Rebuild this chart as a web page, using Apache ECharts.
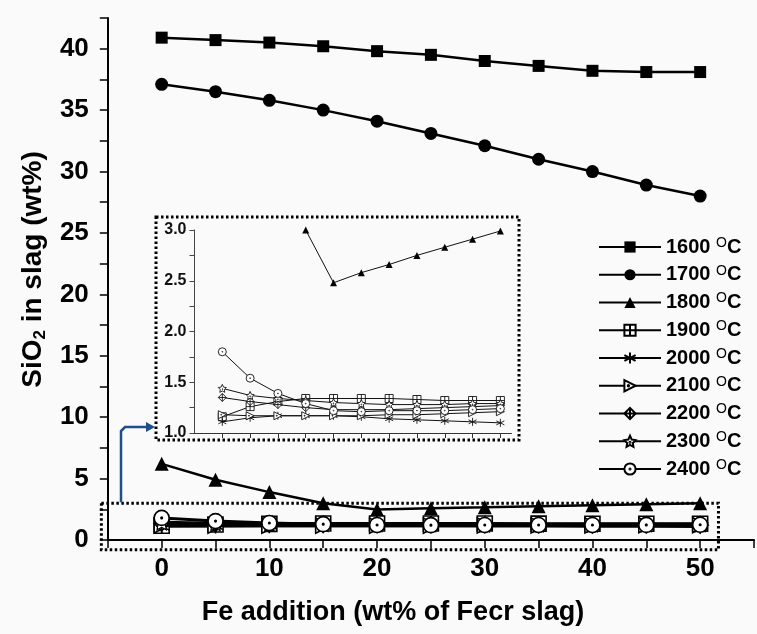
<!DOCTYPE html>
<html><head><meta charset="utf-8">
<script src="https://cdn.jsdelivr.net/npm/echarts@6/dist/echarts.min.js"></script>
<style>html,body{margin:0;padding:0;background:#fff}#c{width:757px;height:634px}</style>
</head><body><div id="c"></div>
<script>
// ---------- data ----------
const xValues = [0, 5, 10, 15, 20, 25, 30, 35, 40, 45, 50];
const s1600 = [40.9, 40.7, 40.5, 40.2, 39.8, 39.5, 39.0, 38.6, 38.2, 38.1, 38.1];
const s1700 = [37.1, 36.5, 35.8, 35.0, 34.1, 33.1, 32.1, 31.0, 30.0, 28.9, 28.0];
const s1800 = [6.2, 4.9, 3.9, 3.0, 2.48, 2.58, 2.66, 2.75, 2.83, 2.91, 2.99];
const s1900 = [1.16, 1.26, 1.31, 1.34, 1.34, 1.34, 1.34, 1.33, 1.32, 1.32, 1.32];
const s2000 = [1.11, 1.15, 1.17, 1.17, 1.17, 1.16, 1.14, 1.13, 1.12, 1.11, 1.10];
const s2100 = [1.18, 1.17, 1.17, 1.17, 1.17, 1.17, 1.18, 1.18, 1.19, 1.20, 1.21];
const s2200 = [1.35, 1.31, 1.28, 1.25, 1.23, 1.23, 1.23, 1.24, 1.25, 1.26, 1.27];
const s2300 = [1.44, 1.37, 1.34, 1.32, 1.30, 1.29, 1.28, 1.28, 1.28, 1.29, 1.29];
const s2400 = [1.80, 1.54, 1.39, 1.29, 1.22, 1.21, 1.22, 1.22, 1.22, 1.23, 1.24];
const seriesNames = ['1600', '1700', '1800', '1900', '2000', '2100', '2200', '2300', '2400'];
const seriesValues = [s1600, s1700, s1800, s1900, s2000, s2100, s2200, s2300, s2400];
const xTickLabels = [0, 10, 20, 30, 40, 50];
const yTickLabels = [0, 5, 10, 15, 20, 25, 30, 35, 40];
const insetYTickLabels = [1.0, 1.5, 2.0, 2.5, 3.0];
const xTitle = 'Fe addition (wt% of Fecr slag)';
const yTitleParts = ['SiO', '2', ' in slag (wt%)'];
const unitParts = ['O', 'C'];
// zoom window that the inset shows (data coordinates)
const zoomBoxX = [-5.6, 51.7];
const zoomBoxY = [-0.8, 3.0];

// ---------- styles ----------
const F = "'Liberation Sans', Arial, Helvetica, sans-serif";
const symbols = {
  '1600': 'rect',
  '1700': 'circle',
  '1800': 'triangle',
  '1900': 'path://M0,0H20V20H0Z M10,0V20 M0,10H20',
  '2000': 'path://M10,0V20 M1.3,5L18.7,15 M1.3,15L18.7,5',
  '2100': 'path://M0,0L20,10L0,20Z M6,10a1.2,1.2 0 1,0 2.4,0a1.2,1.2 0 1,0 -2.4,0',
  '2200': 'path://M10,0L20,10L10,20L0,10Z M10,0V20 M0,10H20',
  '2300': 'path://M10,0L12.94,6.45L19.51,7.41L14.76,12.22L15.88,18.59L10,15.5L4.12,18.59L5.24,12.22L0.49,7.41L7.06,6.45Z M9.1,11a0.9,0.9 0 1,0 1.8,0a0.9,0.9 0 1,0 -1.8,0',
  '2400': 'path://M0,10a10,10 0 1,0 20,0a10,10 0 1,0 -20,0Z M9,10a1,1 0 1,0 2,0a1,1 0 1,0 -2,0'
};
const filled = {'1600': true, '1700': true, '1800': true};
const mainSize = {'1600': 12, '1700': 13, '1800': 14};

function pairs(arr) { return xValues.map((x, i) => [x, arr[i]]); }

const series = [];
seriesNames.forEach((n, k) => {
  series.push({
    name: n, type: 'line', xAxisIndex: 0, yAxisIndex: 0,
    data: pairs(seriesValues[k]),
    symbol: symbols[n], symbolSize: mainSize[n] || 15,
    lineStyle: {color: '#000', width: filled[n] ? 2.5 : 3},
    itemStyle: {color: filled[n] ? '#000' : '#fff', borderColor: '#000', borderWidth: filled[n] ? 0 : (n === '2300' ? 1.2 : 1.6)},
    z: 3
  });
});
// inset series (only those inside the inset's range)
seriesNames.slice(2).forEach((n, k) => {
  series.push({
    name: n + ' inset', type: 'line', xAxisIndex: 1, yAxisIndex: 1,
    data: pairs(seriesValues[k + 2]),
    clip: true,
    symbol: symbols[n], symbolSize: n === '1800' ? 7 : 8,
    lineStyle: {color: '#111', width: 1},
    itemStyle: {color: filled[n] ? '#000' : '#fff', borderColor: '#111', borderWidth: filled[n] ? 0 : 0.9},
    z: 4
  });
});

const chart = echarts.init(document.getElementById('c'), null, {renderer: 'canvas'});
const axisBlack = {color: '#000', width: 2};
const option = {
  animation: false,
  backgroundColor: '#fafafa',
  grid: [
    {left: 107, top: 18, width: 647, height: 522},
    {left: 194.5, top: 230, width: 317, height: 203}
  ],
  xAxis: [
    {
      type: 'value', gridIndex: 0, min: -5, max: 55, interval: 5,
      name: xTitle, nameLocation: 'middle', nameGap: 59,
      nameTextStyle: {fontFamily: F, fontSize: 27, fontWeight: 'bold', color: '#000', padding: [0, 76, 0, 0]},
      axisLine: {onZero: false, lineStyle: axisBlack},
      axisTick: {length: 8, lineStyle: {color: '#000', width: 1.5}},
      axisLabel: {
        fontFamily: F, fontSize: 26, fontWeight: 'bold', color: '#000', margin: 16,
        formatter: v => xTickLabels.indexOf(v) >= 0 ? String(v) : ''
      },
      splitLine: {show: false}
    },
    {
      type: 'value', gridIndex: 1, min: -5, max: 52,
      axisLine: {onZero: false, lineStyle: {color: '#333', width: 1}},
      axisTick: {customValues: xValues, length: 5, lineStyle: {color: '#333', width: 1}},
      axisLabel: {show: false},
      splitLine: {show: false}
    }
  ],
  yAxis: [
    {
      type: 'value', gridIndex: 0, min: 0, max: 42.5, interval: 2.5,
      name: '{a|' + yTitleParts[0] + '}{b|' + yTitleParts[1] + '}{a|' + yTitleParts[2] + '}',
      nameLocation: 'middle', nameGap: 51,
      nameTextStyle: {
        padding: [0, 0, 0, 19],
        rich: {
          a: {fontFamily: F, fontSize: 28, fontWeight: 'bold', color: '#000', lineHeight: 30, verticalAlign: 'top'},
          b: {fontFamily: F, fontSize: 17, fontWeight: 'bold', color: '#000', lineHeight: 16, padding: [24, 0, 0, 0], verticalAlign: 'bottom'}
        }
      },
      axisLine: {onZero: false, lineStyle: axisBlack},
      axisTick: {length: 8, lineStyle: {color: '#000', width: 1.5}},
      axisLabel: {
        fontFamily: F, fontSize: 26, fontWeight: 'bold', color: '#000', margin: 19,
        formatter: v => yTickLabels.indexOf(v) >= 0 ? String(v) : ''
      },
      splitLine: {show: false}
    },
    {
      type: 'value', gridIndex: 1, min: 1, max: 3, interval: 0.25,
      axisLine: {show: true, onZero: false, lineStyle: {color: '#444', width: 1}},
      axisTick: {length: 5, lineStyle: {color: '#444', width: 1}},
      axisLabel: {
        fontFamily: F, fontSize: 16, fontWeight: 'bold', color: '#111', margin: 8,
        formatter: v => insetYTickLabels.some(t => Math.abs(t - v) < 1e-6) ? v.toFixed(1) : ''
      },
      splitLine: {show: false}
    }
  ],
  legend: {
    data: seriesNames, orient: 'vertical', left: 593, top: 231,
    itemWidth: 62, itemHeight: 14, itemGap: -6.25,
    formatter: n => '{t|' + n + ' }{s|' + unitParts[0] + '}{t|' + unitParts[1] + '}',
    textStyle: {
      rich: {
        t: {fontFamily: F, fontSize: 20, fontWeight: 'bold', color: '#000', lineHeight: 22, verticalAlign: 'middle'},
        s: {fontFamily: F, fontSize: 14, color: '#000', lineHeight: 14, padding: [0, 0, 20, 0], verticalAlign: 'top'}
      }
    }
  },
  series: series
};
chart.setOption(option);

// ---------- annotations: dotted zoom window, inset frame, arrow ----------
const pA = chart.convertToPixel({gridIndex: 0}, [zoomBoxX[0], zoomBoxY[1]]);
const pB = chart.convertToPixel({gridIndex: 0}, [zoomBoxX[1], zoomBoxY[0]]);
const dotted = {fill: 'none', stroke: '#000', lineWidth: 3, lineDash: [2.5, 2.5]};
const arrowX = 121, arrowY = 427, arrowTip = 155;
chart.setOption({
  graphic: [
    {type: 'rect', z: 10, silent: true, shape: {x: pA[0], y: pA[1], width: pB[0] - pA[0], height: pB[1] - pA[1]}, style: dotted},
    {type: 'rect', z: 10, silent: true, shape: {x: 156, y: 217, width: 363, height: 223}, style: dotted},
    {type: 'polyline', z: 10, silent: true,
      shape: {points: [[arrowX, pA[1] - 1], [arrowX, arrowY + 4], [arrowX + 4, arrowY], [arrowTip - 8, arrowY]]},
      style: {stroke: '#1d4f8c', lineWidth: 2.5, fill: 'none'}},
    {type: 'polygon', z: 10, silent: true,
      shape: {points: [[arrowTip - 9, arrowY - 5], [arrowTip, arrowY], [arrowTip - 9, arrowY + 5]]},
      style: {fill: '#1d4f8c'}}
  ]
});
</script>
</body></html>
